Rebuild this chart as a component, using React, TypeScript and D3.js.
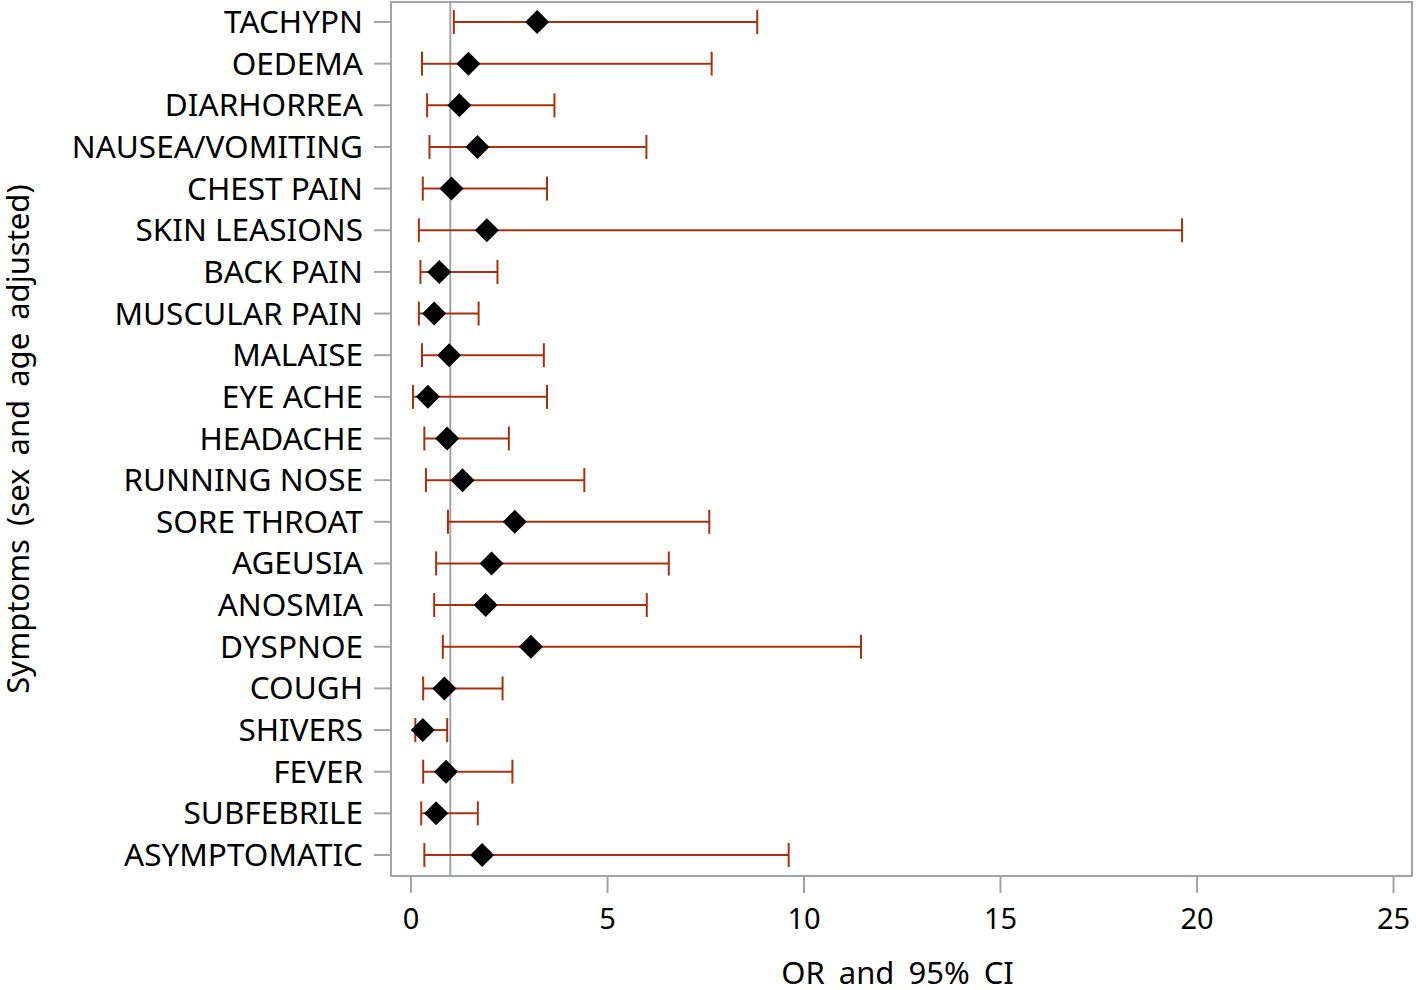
import React from "react";
import * as d3 from "d3";

const symptoms = [
  "TACHYPN", "OEDEMA", "DIARHORREA", "NAUSEA/VOMITING", "CHEST PAIN", "SKIN LEASIONS",
  "BACK PAIN", "MUSCULAR PAIN", "MALAISE", "EYE ACHE", "HEADACHE", "RUNNING NOSE",
  "SORE THROAT", "AGEUSIA", "ANOSMIA", "DYSPNOE", "COUGH", "SHIVERS", "FEVER",
  "SUBFEBRILE", "ASYMPTOMATIC",
];
const oddsRatio = [3.21, 1.46, 1.23, 1.69, 1.03, 1.93, 0.72, 0.59, 0.97, 0.43, 0.92, 1.31, 2.64, 2.05, 1.9, 3.05, 0.85, 0.3, 0.89, 0.64, 1.81];
const ciLower = [1.09, 0.28, 0.41, 0.47, 0.3, 0.2, 0.24, 0.2, 0.28, 0.05, 0.34, 0.38, 0.94, 0.64, 0.59, 0.81, 0.31, 0.11, 0.31, 0.26, 0.34];
const ciUpper = [8.81, 7.65, 3.65, 5.99, 3.46, 19.62, 2.2, 1.72, 3.38, 3.46, 2.49, 4.41, 7.59, 6.56, 6.0, 11.45, 2.33, 0.92, 2.58, 1.7, 9.61];
const xTicks = [0, 5, 10, 15, 20, 25];
const referenceOR = 1;

const W = 1416;
const H = 990;
const FONT = "'Noto Sans', sans-serif";
const AXIS = "#a0a4a8";
const BAR = "#a8300c";

export default function App() {
  const frame = { left: 391, right: 1412, top: 2, bottom: 876 };
  const x = d3.scaleLinear().domain([0, 25]).range([411, 1393.5]);
  const y = d3.scalePoint<string>().domain(symptoms).range([22, 855]);
  const diamond = d3.symbol().type(d3.symbolSquare).size(17 * 17)();
  const cap = 12;

  return (
    <svg width={W} height={H} style={{ position: "absolute", left: 0, top: 0, background: "#fff" }}>
      <rect x={frame.left} y={frame.top} width={frame.right - frame.left} height={frame.bottom - frame.top}
        fill="none" stroke={AXIS} strokeWidth={2} />
      <line x1={x(referenceOR)} x2={x(referenceOR)} y1={frame.top} y2={frame.bottom} stroke={AXIS} strokeWidth={2} />
      {symptoms.map((s) => (
        <g key={s} transform={`translate(0,${y(s)})`}>
          <line x1={374} x2={frame.left} stroke={AXIS} strokeWidth={2} />
          <text x={363} dy="0.35em" textAnchor="end" fontFamily={FONT} fontSize={31.5} fill="#000">{s}</text>
        </g>
      ))}
      {xTicks.map((t) => (
        <g key={t} transform={`translate(${x(t)},0)`}>
          <line y1={frame.bottom} y2={frame.bottom + 17} stroke={AXIS} strokeWidth={2} />
          <text y={929} textAnchor="middle" fontFamily={FONT} fontSize={29} fill="#000">{t}</text>
        </g>
      ))}
      {symptoms.map((s, i) => {
        const yy = y(s) as number;
        return (
          <g key={"e" + s} stroke={BAR} strokeWidth={2} fill="none">
            <line x1={x(ciLower[i])} x2={x(ciUpper[i])} y1={yy} y2={yy} />
            <line x1={x(ciLower[i])} x2={x(ciLower[i])} y1={yy - cap} y2={yy + cap} />
            <line x1={x(ciUpper[i])} x2={x(ciUpper[i])} y1={yy - cap} y2={yy + cap} />
          </g>
        );
      })}
      {symptoms.map((s, i) => (
        <path key={"d" + s} d={diamond as string} fill="#000"
          transform={`translate(${x(oddsRatio[i])},${y(s)}) rotate(45)`} />
      ))}
      <text x={897.5} y={984} textAnchor="middle" fontFamily={FONT} fontSize={31} wordSpacing={6} fill="#000">
        OR and 95% CI
      </text>
      <text transform={`translate(29,439) rotate(-90)`} textAnchor="middle"
        fontFamily={FONT} fontSize={31} wordSpacing={5} fill="#000">
        Symptoms (sex and age adjusted)
      </text>
    </svg>
  );
}
